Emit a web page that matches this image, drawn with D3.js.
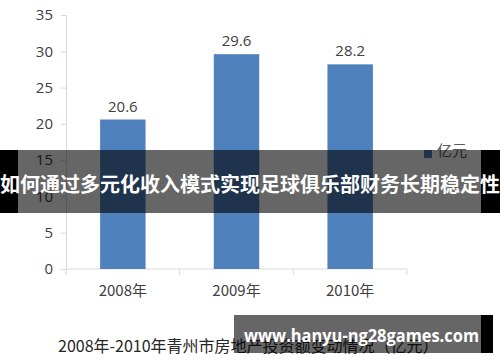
<!DOCTYPE html>
<html>
<head>
<meta charset="utf-8">
<script src="https://cdnjs.cloudflare.com/ajax/libs/d3/7.8.5/d3.min.js"></script>
<style>
  body { margin: 0; background: #fff; }
  svg { display: block; }
  text { font-family: "Noto Sans CJK SC", "Open Sans", sans-serif; }
</style>
</head>
<body>
<script>
// chart data
var years = ['2008年', '2009年', '2010年'];
var amounts = [20.6, 29.6, 28.2];
var yTicks = [0, 5, 10, 15, 20, 25, 30, 35];
var seriesName = '亿元';
var chartTitle = '2008年-2010年青州市房地产投资额变动情况（亿元）';
var bannerText = '如何通过多元化收入模式实现足球俱乐部财务长期稳定性';
var siteText = 'www.hanyu-ng28games.com';

var W = 500, H = 362;
var svg = d3.select('body').append('svg').attr('width', W).attr('height', H);

var x = d3.scaleBand().domain(years).range([66, 407]).paddingInner(0.6).paddingOuter(0.3);
var y = d3.scaleLinear().domain([0, 35]).range([269, 15]);

// y axis
var yAxis = svg.append('g').attr('transform', 'translate(66,0)')
  .call(d3.axisLeft(y).tickValues(yTicks).tickSize(5).tickPadding(8));
yAxis.select('.domain').attr('stroke', '#d9d9d9');
yAxis.selectAll('.tick line').attr('stroke', '#d9d9d9');
yAxis.selectAll('.tick text').attr('fill', '#404040').style('font-size', '15px')
  .style('font-family', '"Open Sans", sans-serif');

// x axis with ticks on category boundaries
var xg = svg.append('g').attr('transform', 'translate(0,269)');
xg.append('line').attr('x1', 66).attr('x2', 407).attr('stroke', '#d9d9d9');
var bounds = years.map(function(d){ return x(d) - x.step() * x.paddingInner() / 2; });
bounds.push(407);
xg.selectAll('.b').data(bounds).enter().append('line')
  .attr('x1', function(d){ return d; }).attr('x2', function(d){ return d; })
  .attr('y1', 0).attr('y2', 6).attr('stroke', '#d9d9d9');
xg.selectAll('.lbl').data(years).enter().append('text')
  .attr('x', function(d){ return x(d) + x.bandwidth() / 2; })
  .attr('y', 27).attr('text-anchor', 'middle')
  .attr('fill', '#404040').style('font-size', '15px')
  .text(function(d){ return d; });

// bars
svg.selectAll('.bar').data(amounts).enter().append('rect')
  .attr('x', function(d, i){ return x(years[i]); })
  .attr('y', function(d){ return y(d); })
  .attr('width', x.bandwidth())
  .attr('height', function(d){ return y(0) - y(d); })
  .attr('fill', '#4f81bd');

svg.selectAll('.val').data(amounts).enter().append('text')
  .attr('x', function(d, i){ return x(years[i]) + x.bandwidth() / 2; })
  .attr('y', function(d){ return y(d) - 8; })
  .attr('text-anchor', 'middle').attr('fill', '#404040')
  .style('font-size', '15px').style('font-family', '"Open Sans", sans-serif')
  .text(function(d){ return d.toFixed(1); });

// legend
svg.append('rect').attr('x', 424).attr('y', 150).attr('width', 8).attr('height', 8).attr('fill', '#4f81bd');
svg.append('text').attr('x', 437).attr('y', 156).attr('fill', '#595959')
  .style('font-size', '15px').text(seriesName);

// title
svg.append('text').attr('x', 58).attr('y', 352).attr('fill', '#262626')
  .style('font-size', '16px').text(chartTitle);

// overlay banner
svg.append('rect').attr('x', 0).attr('y', 150).attr('width', 18).attr('height', 63).attr('fill', '#000');
svg.append('rect').attr('x', 481).attr('y', 150).attr('width', 19).attr('height', 63).attr('fill', '#000');
svg.append('rect').attr('x', 18).attr('y', 150).attr('width', 463).attr('height', 63).attr('fill', 'rgba(0,0,0,0.6)');
svg.append('text').attr('x', 250).attr('y', 183).attr('text-anchor', 'middle')
  .attr('dominant-baseline', 'central').attr('fill', '#fff')
  .style('font-size', '20px').style('font-weight', 'bold')
  .attr('textLength', 500).attr('lengthAdjust', 'spacingAndGlyphs')
  .text(bannerText);

// site watermark
svg.append('rect').attr('x', 481).attr('y', 315).attr('width', 12).attr('height', 38).attr('fill', '#000');
svg.append('rect').attr('x', 234).attr('y', 315).attr('width', 247).attr('height', 38).attr('fill', 'rgba(0,0,0,0.6)');
svg.append('text').attr('x', 244).attr('y', 342).attr('fill', '#fff')
  .style('font-size', '18px').style('font-weight', 'bold')
  .style('font-family', '"Open Sans", sans-serif')
  .attr('textLength', 235).attr('lengthAdjust', 'spacingAndGlyphs')
  .text(siteText);
</script>
</body>
</html>
